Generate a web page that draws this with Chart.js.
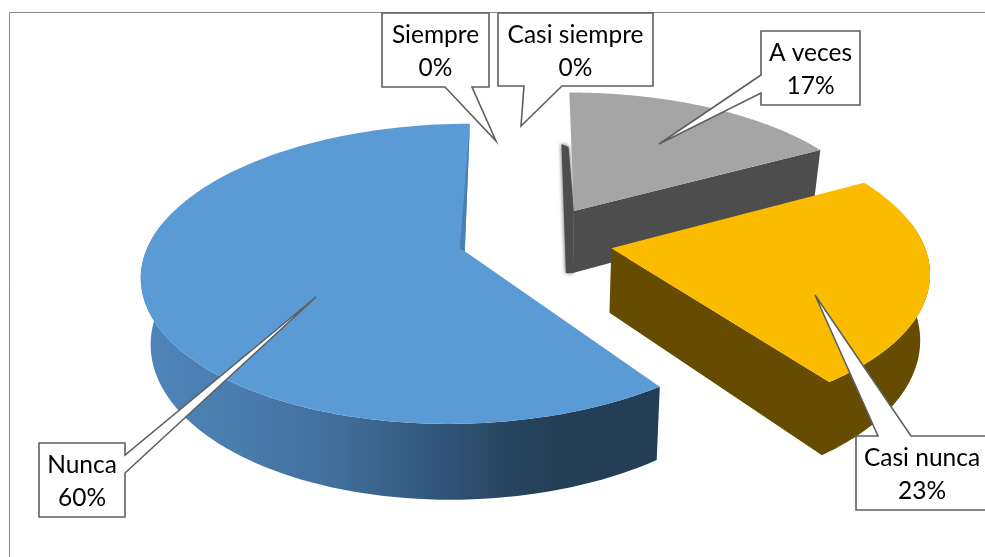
<!DOCTYPE html>
<html>
<head>
<meta charset="utf-8">
<script src="https://cdn.jsdelivr.net/npm/chart.js@4"></script>
<style>
  html, body { margin: 0; padding: 0; background: #fff; }
  #wrap { width: 985px; height: 557px; }
</style>
</head>
<body>
<div id="wrap"><canvas id="chart-pie"></canvas></div>
<script>
// datos de la encuesta
const categorias = ["Siempre", "Casi siempre", "A veces", "Casi nunca", "Nunca"];
const valores = [0, 0, 17, 23, 60];

const coloresCara = ["#4472c4", "#ed7d31", "#a5a5a5", "#fbbc00", "#5b9bd5"];
const coloresLado = ["#2a4678", "#8f4b1d", "#4d4d4d", "#664c00", null];
const separacion = [0.24, 0.24, 0.246, 0.246, 0.252];
const separacionCentro = [0.24, 0.24, 0.246, 0.246, 0.238];
const ordenDibujo = [2, 4, 3];

// cajas de las etiquetas: x, y, ancho, alto y la cuña que apunta al sector
const cajas = [
  { x: 382, y: 13, w: 107, h: 74, base: [[445, 87], [472, 87]], punta: [496, 141] },
  { x: 498, y: 13, w: 155, h: 73, base: [[524, 86], [562, 86]], punta: [521, 126] },
  { x: 761, y: 31, w: 99, h: 74, base: [[761, 75], [761, 93]], punta: [659, 144] },
  { x: 856, y: 436, w: 140, h: 74, base: [[878, 436], [911, 436]], punta: [815, 295] },
  { x: 39, y: 443, w: 86, h: 74, base: [[125, 455], [125, 473]], punta: [316, 297] }
];

// perspectiva del pastel 3D
const escalaX = 1.295, escalaY = 0.597, fugaX = 0.14, fugaY = 0.145, grosor = 0.266, encogeBase = 0.975;

function proyectar(el, X, Y) {
  const w = 1 - fugaY * Y;
  return {
    x: el.x + el.outerRadius * escalaX * X / (1 - fugaX * Y),
    y: el.y + el.outerRadius * escalaY * Y / w,
    w: w
  };
}

function abajo(el, p) {
  return {
    x: el.x + (p.x - el.x) * encogeBase,
    y: p.y + el.outerRadius * grosor / p.w
  };
}

function rellenar(ctx, puntos, color) {
  ctx.beginPath();
  puntos.forEach((p, i) => i ? ctx.lineTo(p.x, p.y) : ctx.moveTo(p.x, p.y));
  ctx.closePath();
  ctx.fillStyle = color;
  ctx.fill();
}

function dibujarSector(ctx, el, i) {
  const medio = (el.startAngle + el.endAngle) / 2;
  const ex = separacion[i] * Math.cos(medio), ey = separacion[i] * Math.sin(medio);
  const borde = [], frente = [];
  for (let k = 0; k <= 120; k++) {
    const a = el.startAngle + (el.endAngle - el.startAngle) * k / 120;
    const p = proyectar(el, ex + Math.cos(a), ey + Math.sin(a));
    borde.push(p);
    if (Math.sin(a) > -0.2) frente.push(p);
  }
  const centro = proyectar(el, separacionCentro[i] * Math.cos(medio), separacionCentro[i] * Math.sin(medio));
  const ini = borde[0], fin = borde[borde.length - 1];

  let lado = coloresLado[i];
  if (!lado) {
    lado = ctx.createLinearGradient(145, 0, 660, 0);
    lado.addColorStop(0, "#4f85ba");
    lado.addColorStop(0.18, "#4a7cae");
    lado.addColorStop(0.37, "#416f9c");
    lado.addColorStop(0.53, "#345a80");
    lado.addColorStop(0.69, "#294762");
    lado.addColorStop(0.8, "#243e55");
    lado.addColorStop(1, "#243e55");
  }

  // pared interior oscura del sector gris, con borde difuso
  if (i === 2) {
    const b0 = abajo(el, ini), b1 = abajo(el, centro);
    ctx.save();
    ctx.shadowColor = "#4d4d4d";
    ctx.shadowBlur = 4;
    rellenar(ctx, [b0, { x: b0.x - 7, y: b0.y - 3 }, { x: b1.x - 7, y: b1.y }, b1, centro], "#4d4d4d");
    ctx.restore();
  }

  // paredes que miran al frente, en un solo trazo para que no quede costura
  if (i === 4) {
    rellenar(ctx, frente.concat(frente.slice().reverse().map(p => abajo(el, p))), lado);
  } else {
    const rim = frente.length ? frente : [fin];
    rellenar(ctx, [centro].concat(rim.slice().reverse(), rim.map(p => abajo(el, p)), [abajo(el, centro)]), lado);
  }

  // cara superior
  rellenar(ctx, [centro].concat(borde), coloresCara[i]);

  // franja interior del sector azul
  if (i === 4) {
    rellenar(ctx, [fin, centro, { x: centro.x - 5, y: centro.y - 3 }], "#4a7fb3");
  }
}

function dibujarCaja(ctx, c, i) {
  const x2 = c.x + c.w, y2 = c.y + c.h;
  const [b0, b1] = c.base;
  ctx.beginPath();
  ctx.moveTo(c.x, c.y);
  // la cuña sale del lado donde estan los puntos base
  if (b0[1] === c.y) {
    ctx.lineTo(b0[0], b0[1]); ctx.lineTo(c.punta[0], c.punta[1]); ctx.lineTo(b1[0], b1[1]);
    ctx.lineTo(x2, c.y); ctx.lineTo(x2, y2); ctx.lineTo(c.x, y2);
  } else if (b0[1] === y2) {
    ctx.lineTo(x2, c.y); ctx.lineTo(x2, y2);
    ctx.lineTo(b1[0], b1[1]); ctx.lineTo(c.punta[0], c.punta[1]); ctx.lineTo(b0[0], b0[1]);
    ctx.lineTo(c.x, y2);
  } else if (b0[0] === x2) {
    ctx.lineTo(x2, c.y); ctx.lineTo(b0[0], b0[1]); ctx.lineTo(c.punta[0], c.punta[1]);
    ctx.lineTo(b1[0], b1[1]); ctx.lineTo(x2, y2); ctx.lineTo(c.x, y2);
  } else {
    ctx.lineTo(x2, c.y); ctx.lineTo(x2, y2); ctx.lineTo(c.x, y2);
    ctx.lineTo(b1[0], b1[1]); ctx.lineTo(c.punta[0], c.punta[1]); ctx.lineTo(b0[0], b0[1]);
  }
  ctx.closePath();
  ctx.fillStyle = "#fff";
  ctx.fill();
  ctx.lineWidth = 1.6;
  ctx.strokeStyle = "#5f5f5f";
  ctx.lineJoin = "miter";
  ctx.stroke();

  const total = valores.reduce((a, b) => a + b, 0);
  ctx.fillStyle = "#000";
  ctx.font = "24.5px Lato";
  ctx.textAlign = "center";
  ctx.textBaseline = "alphabetic";
  const cx = c.x + c.w / 2 - (i === 3 ? 4 : 0);
  ctx.fillText(categorias[i], cx, c.y + 30);
  ctx.fillText(Math.round(valores[i] * 100 / total) + "%", cx, c.y + 63);
}

const pastel3d = {
  id: "pastel3d",
  beforeDraw(chart) {
    const ctx = chart.ctx;
    // marco del grafico
    ctx.save();
    ctx.strokeStyle = "#8a8a8a";
    ctx.lineWidth = 1;
    ctx.beginPath();
    ctx.moveTo(9.5, 557);
    ctx.lineTo(9.5, 12.5);
    ctx.lineTo(985, 12.5);
    ctx.stroke();
    ctx.restore();
  },
  beforeDatasetsDraw(chart) {
    const ctx = chart.ctx;
    const arcos = chart.getDatasetMeta(0).data;
    ctx.save();
    ordenDibujo.forEach(i => dibujarSector(ctx, arcos[i], i));
    cajas.forEach((c, i) => dibujarCaja(ctx, c, i));
    ctx.restore();
    return false;
  }
};

new Chart(document.getElementById("chart-pie"), {
  type: "pie",
  data: {
    labels: categorias,
    datasets: [{ data: valores, backgroundColor: coloresCara, borderWidth: 0 }]
  },
  options: {
    responsive: true,
    maintainAspectRatio: false,
    animation: false,
    rotation: 0,
    layout: { padding: { left: 87, bottom: 76 } },
    plugins: { legend: { display: false }, tooltip: { enabled: false } }
  },
  plugins: [pastel3d]
});
</script>
</body>
</html>
